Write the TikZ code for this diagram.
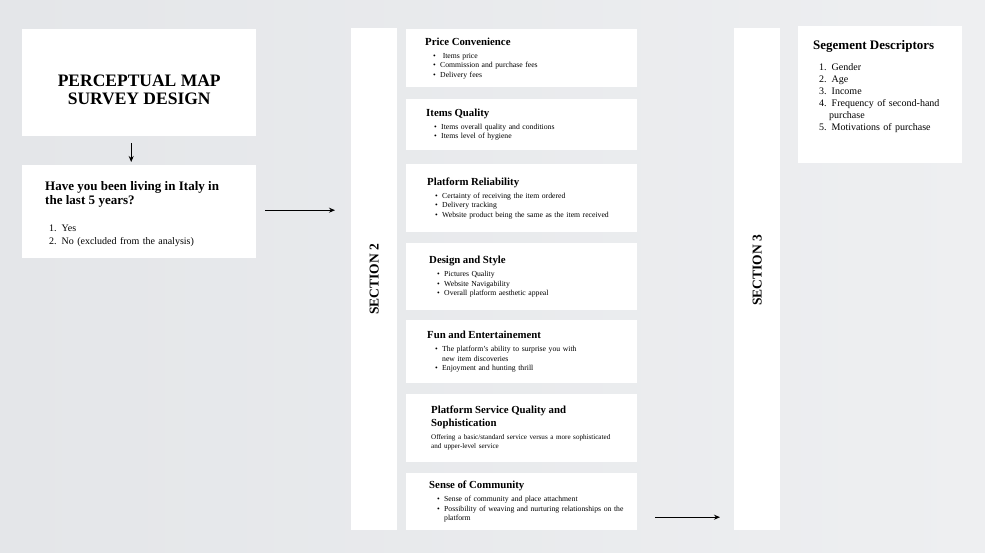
\documentclass[tikz,border=0pt]{standalone}
\usepackage{fontspec}
\setmainfont{Liberation Serif}
\usepackage{tikz}
\usetikzlibrary{positioning, arrows.meta}
\setlength{\parindent}{0pt}

\definecolor{bgleft}{RGB}{228,230,233}
\definecolor{bgright}{RGB}{238,239,241}

% card helpers
\newcommand{\cardhead}[1]{{\fontsize{10.8}{12.5}\selectfont\bfseries #1\par}\vspace{3.5pt}}
\newcommand{\bitem}[1]{\par\hangindent=15pt\hspace*{8pt}\makebox[7pt][l]{\textbullet}#1}

\tikzset{
  panel/.style={fill=white, draw=none, anchor=north west, inner sep=0pt},
  topic/.style={panel, text width=193pt, inner xsep=19pt, align=left,
    font=\fontsize{7.7}{9.5}\selectfont},
  wide/.style={text width=#1, inner xsep={(231pt-#1)/2}},
  sectbar/.style={panel, minimum width=46pt, minimum height=502pt},
  sectlabel/.style={rotate=90, font=\fontsize{13.5}{14}\selectfont\bfseries},
  flow/.style={-{Stealth[length=6pt,width=5pt]}, line width=1.3pt, black}
}

\begin{document}
\begin{tikzpicture}[x=1pt, y=-1pt]
	\fill[left color=bgleft, right color=bgright] (0,0) rectangle (985,552);
	\useasboundingbox (0,0) rectangle (985,552);

	% section 1
	\node[panel, minimum width=234pt, minimum height=107pt] (title) at (22,29) {};
	\node[align=center, inner sep=0pt, font=\fontsize{17.5}{17.5}\selectfont\bfseries]
	  (titletext) at ([yshift=-7pt]title.center) {PERCEPTUAL MAP\\SURVEY DESIGN};
	\node[panel, minimum width=234pt, minimum height=93pt] (living) at (22,165) {};
	\node[anchor=north west, inner sep=0pt, text width=188pt, align=left,
	  font=\fontsize{10}{13}\selectfont] (livingtext) at ([xshift=23pt,yshift=-16pt]living.north west)
	  {{\fontsize{13}{14}\selectfont\bfseries Have you been living in Italy in\\the last 5 years?\par}
	   \vspace{14pt}
	   \hspace*{4pt}1. Yes\par
	   \hspace*{4pt}2. No (excluded from the analysis)};

	% section 2
	\node[sectbar] (sec2) at (351,28) {};
	\node[sectlabel] at (sec2.center) {SECTION 2};

	\node[topic, minimum height=58pt] (price) at (406,29)
	  {\cardhead{Price Convenience}
	   \bitem{ Items price}
	   \bitem{Commission and purchase fees}
	   \bitem{Delivery fees}};
	\node[topic, wide=191pt, minimum height=51pt] (quality) at (406,99)
	  {\cardhead{Items Quality}
	   \bitem{Items overall quality and conditions}
	   \bitem{Items level of hygiene}};
	\node[topic, wide=189pt, minimum height=68pt] (reliab) at (406,164)
	  {\cardhead{Platform Reliability}
	   \bitem{Certainty of receiving the item ordered}
	   \bitem{Delivery tracking}
	   \bitem{\mbox{Website product being the same as the item received}}};
	\node[topic, wide=185pt, minimum height=67pt] (design) at (406,243)
	  {\cardhead{Design and Style}
	   \bitem{Pictures Quality}
	   \bitem{Website Navigability}
	   \bitem{Overall platform aesthetic appeal}};
	\node[topic, wide=189pt, minimum height=63pt] (fun) at (406,320)
	  {\cardhead{Fun and Entertainement}
	   \bitem{The platform's ability to surprise you with\newline new item discoveries}
	   \bitem{Enjoyment and hunting thrill}};
	\node[topic, wide=181pt, minimum height=68pt] (service) at (406,394)
	  {\cardhead{Platform Service Quality and\\Sophistication}
	   {\fontsize{7.1}{9.5}\selectfont
	   \mbox{Offering a basic/standard service versus a more sophisticated}\newline
	   and upper-level service\par}};
	\node[topic, wide=185pt, minimum height=57pt] (comm) at (406,473)
	  {\cardhead{Sense of Community}
	   \bitem{Sense of community and place attachment}
	   \bitem{\mbox{Possibility of weaving and nurturing relationships on the}\newline platform}\par};

	% section 3
	\node[sectbar] (sec3) at (734,28) {};
	\node[sectlabel] at ([yshift=9pt]sec3.center) {SECTION 3};

	\node[panel, minimum width=164pt, minimum height=137pt] (segm) at (798,26) {};
	\node[anchor=north west, inner sep=0pt, text width=140pt, align=left,
	  font=\fontsize{10}{12}\selectfont] (segmtext) at ([xshift=15pt,yshift=-14pt]segm.north west)
	  {{\fontsize{13}{15}\selectfont\bfseries Segement Descriptors\par}
	   \vspace{9pt}
	   \hspace*{6pt}1. Gender\par
	   \hspace*{6pt}2. Age\par
	   \hspace*{6pt}3. Income\par
	   \hangindent=16pt\hspace*{6pt}4. Frequency of second-hand\newline purchase\par
	   \hspace*{6pt}5. Motivations of purchase};

	% connectors
	\coordinate (downA) at ([xshift=-8pt]title.south);
	\coordinate (downB) at ([xshift=-8pt]living.north);
	\draw[flow, shorten <=7pt, shorten >=3pt] (downA) -- (downB);
	\coordinate (toSec2) at ([yshift=1.5pt]living.east);
	\draw[flow, shorten <=9pt, shorten >=16pt] (toSec2) -- (toSec2 -| sec2.west);
	\coordinate (toSec3) at ([yshift=-15.5pt]comm.east);
	\draw[flow, shorten <=18pt, shorten >=14pt] (toSec3) -- (toSec3 -| sec3.west);
\end{tikzpicture}
\end{document}
